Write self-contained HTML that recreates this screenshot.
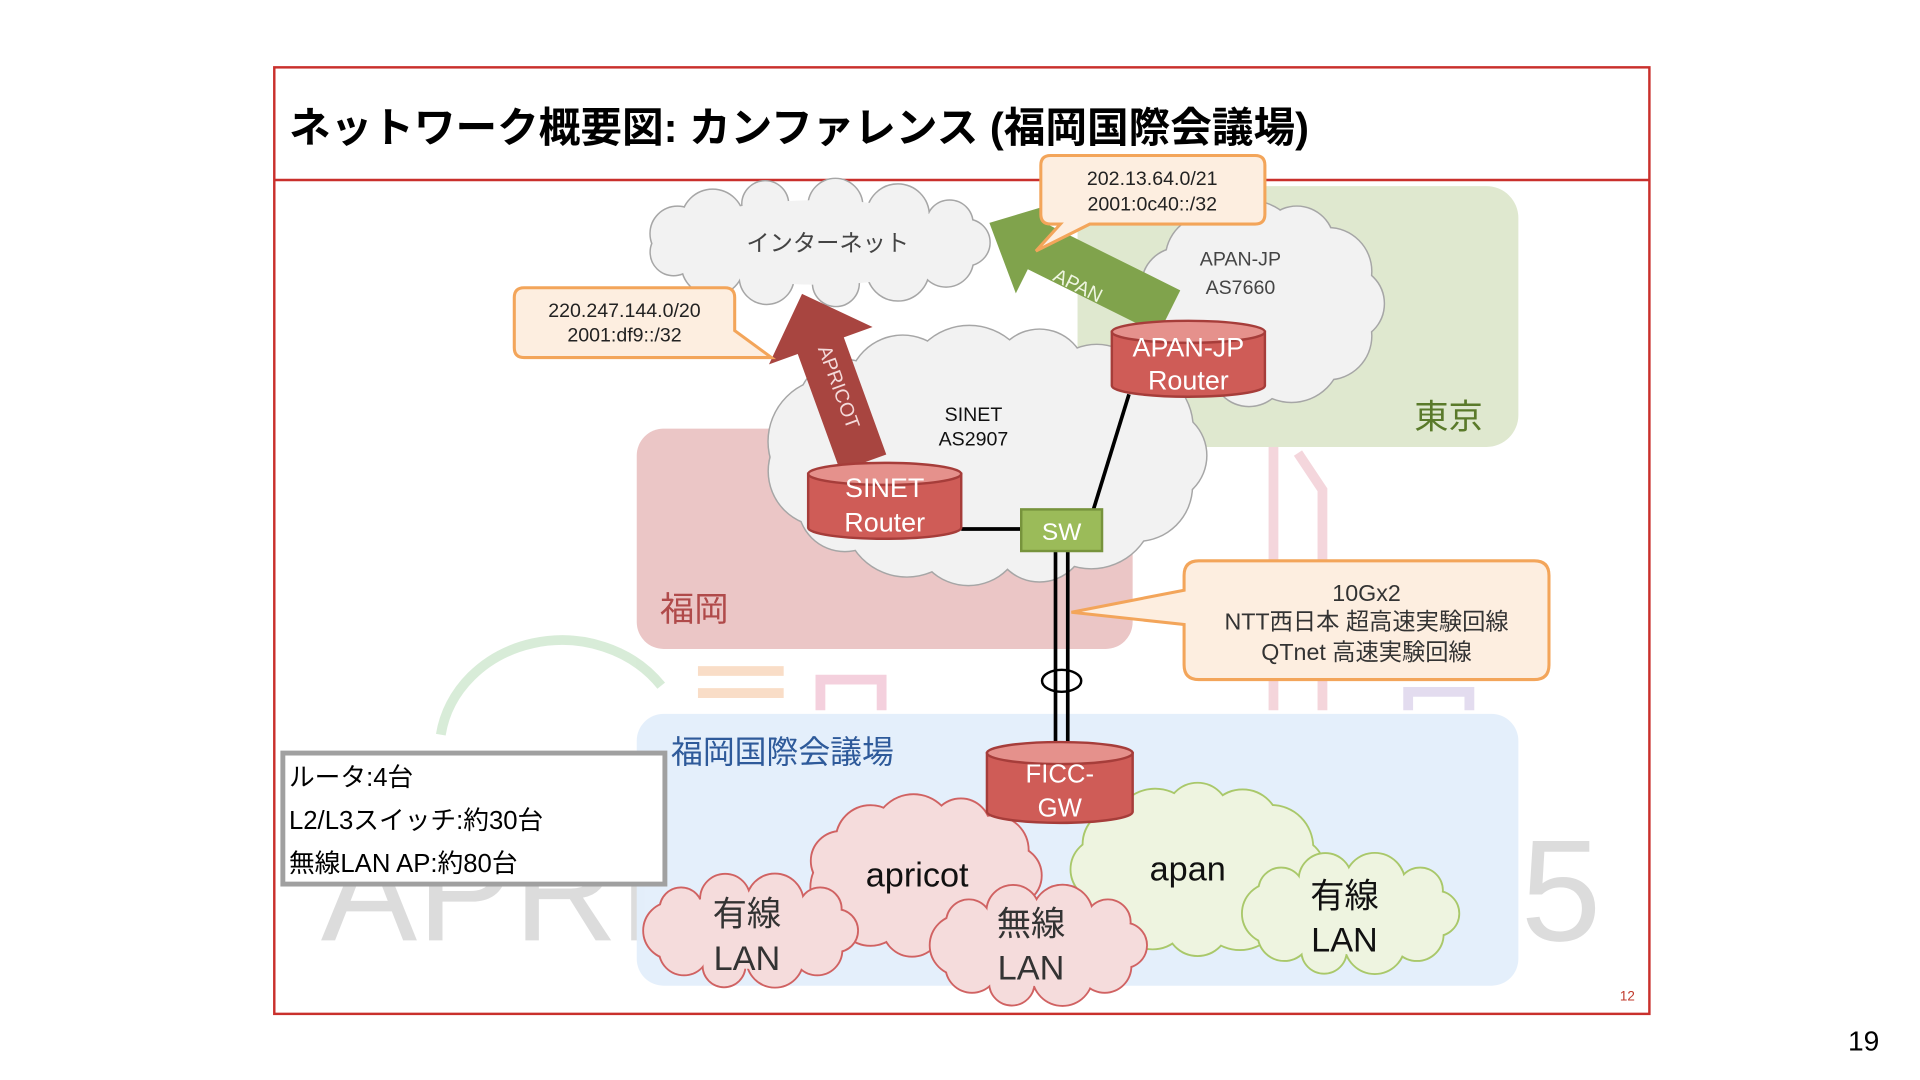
<!DOCTYPE html>
<html><head><meta charset="utf-8">
<style>
html,body{margin:0;padding:0;background:#fff;width:1920px;height:1080px;overflow:hidden}
svg{display:block}
text{font-family:"Liberation Sans","Noto Sans CJK JP",sans-serif}
</style></head>
<body>
<svg id="s" width="1920" height="1080" viewBox="0 0 1568 882" xmlns="http://www.w3.org/2000/svg">
<rect x="0" y="0" width="1568" height="882" fill="#fff"/>
<!-- frame -->
<rect x="224" y="55" width="1123" height="773" fill="none" stroke="#c9302c" stroke-width="2"/>
<line x1="224" y1="147" x2="1347" y2="147" stroke="#c9302c" stroke-width="2"/>
<!-- regions -->
<rect x="880" y="152" width="360" height="213" rx="26" fill="#dfe8cf"/>
<rect x="520" y="350" width="405" height="180" rx="22" fill="#ebc6c6"/>
<!-- faint watermark -->
<g opacity="0.35" fill="none" stroke-width="8">
<path d="M360 600 A100 90 0 0 1 540 560" stroke="#8fc88f"/>
<line x1="570" y1="548" x2="640" y2="548" stroke="#f0a060"/>
<line x1="570" y1="566" x2="640" y2="566" stroke="#f0a060"/>
<path d="M670 580 V555 H720 V580" stroke="#e07aa0"/>
<path d="M1040 365 V580 M1060 370 L1080 400 V580" stroke="#e08a9a"/>
<path d="M1150 580 V565 H1200 V580" stroke="#b09ad0"/>
</g>
<text x="262" y="768" font-size="118" fill="#bbb" opacity="0.5">APRI</text>
<text x="1242" y="768" font-size="118" fill="#bbb" opacity="0.5">5</text>
<rect x="520" y="583" width="720" height="222" rx="22" fill="#e3eefb" opacity="0.95"/>
<g id="clouds1"></g>
<!-- arrows -->
<polygon points="723.8,371.2 689.1,275.5 712.6,267 655,240 628,297.6 651.5,289.1 686.2,384.8" fill="#a84540"/>
<text transform="translate(680,318) rotate(70)" font-size="16" fill="#f4dada" text-anchor="middle">APRICOT</text>
<polygon points="963.9,237.1 857.2,184.1 867,164.4 808,182 829.6,239.6 839.4,219.9 946.1,272.9" fill="#80a34c"/>
<text transform="translate(878,238) rotate(26.4)" font-size="16" fill="#eef5e0" text-anchor="middle">APAN</text>
<!-- lines -->
<line x1="785" y1="432" x2="834" y2="432" stroke="#000" stroke-width="3"/>
<line x1="922" y1="322" x2="893" y2="416" stroke="#000" stroke-width="3"/>
<line x1="862" y1="450" x2="862" y2="612" stroke="#000" stroke-width="3"/>
<line x1="872" y1="450" x2="872" y2="612" stroke="#000" stroke-width="3"/>
<ellipse cx="867" cy="556" rx="16" ry="9" fill="none" stroke="#000" stroke-width="2"/>
<!-- SW -->
<rect x="834" y="416" width="66" height="34" fill="#9bbb59" stroke="#77933c" stroke-width="2"/>
<text x="867" y="441" font-size="20" fill="#fff" text-anchor="middle">SW</text>
<!-- routers -->
<g id="routers"></g>
<g id="clouds2"></g>
<!-- callouts -->
<path d="M428 235 H592 Q600 235 600 243 V270 L630 292 L596 292 H428 Q420 292 420 284 V243 Q420 235 428 235 Z" fill="#fdeee0" stroke="#f3a55a" stroke-width="2.5"/>
<text x="510" y="259" font-size="16" text-anchor="middle" fill="#222">220.247.144.0/20</text>
<text x="510" y="279" font-size="16" text-anchor="middle" fill="#222">2001:df9::/32</text>
<path d="M858 127 H1025 Q1033 127 1033 135 V175 Q1033 183 1025 183 H890 L846 205 L866 183 H858 Q850 183 850 175 V135 Q850 127 858 127 Z" fill="#fdeee0" stroke="#f3a55a" stroke-width="2.5"/>
<text x="941" y="151" font-size="16" text-anchor="middle" fill="#222">202.13.64.0/21</text>
<text x="941" y="172" font-size="16" text-anchor="middle" fill="#222">2001:0c40::/32</text>
<path d="M979 458 H1253 Q1265 458 1265 470 V543 Q1265 555 1253 555 H979 Q967 555 967 543 V510 L875 500 L967 482 V470 Q967 458 979 458 Z" fill="#fdeee0" stroke="#f3a55a" stroke-width="2.5"/>
<text x="1116" y="491" font-size="19" text-anchor="middle" fill="#333">10Gx2</text>
<text x="1116" y="514" font-size="19" text-anchor="middle" fill="#333">NTT西日本 超高速実験回線</text>
<text x="1116" y="539" font-size="19" text-anchor="middle" fill="#333">QTnet 高速実験回線</text>
<!-- stats box -->
<rect x="231" y="615" width="312" height="107" fill="#fff" stroke="#a0a0a0" stroke-width="4"/>
<text x="236" y="642" font-size="21" fill="#000">ルータ:4台</text>
<text x="236" y="677" font-size="21" fill="#000">L2/L3スイッチ:約30台</text>
<text x="236" y="712" font-size="21" fill="#000">無線LAN AP:約80台</text>
<!-- labels -->
<text x="1183" y="350" font-size="28" fill="#5a7a2a" text-anchor="middle">東京</text>
<text x="567" y="507" font-size="28" fill="#b04a4a" text-anchor="middle">福岡</text>
<text x="548" y="623" font-size="26" fill="#2e5a9a">福岡国際会議場</text>
<text x="236" y="116" font-size="34" font-weight="bold" fill="#000">ネットワーク概要図: カンファレンス (福岡国際会議場)</text>
<text x="1329" y="817" font-size="11" fill="#c0392b" text-anchor="middle">12</text>
<text x="1522" y="858" font-size="23" fill="#000" text-anchor="middle">19</text>
</svg>
<script>
var NS="http://www.w3.org/2000/svg";
function el(t,a,p){var e=document.createElementNS(NS,t);for(var k in a)e.setAttribute(k,a[k]);p.appendChild(e);return e;}
function cloud(p,cx,cy,a,b,n,st,fi,sw,label,ls,lc){
  var g=el("g",{},p);var r=Math.min(a,b)*0.42;var cs=[];
  for(var i=0;i<n;i++){var t=2*Math.PI*i/n;var rr=r*(0.85+0.3*((i*7)%3)/2);
    cs.push([cx+(a-rr)*Math.cos(t),cy+(b-rr)*Math.sin(t),rr]);}
  var g1=el("g",{stroke:st,"stroke-width":sw*2,fill:st},g);
  cs.forEach(function(c){el("circle",{cx:c[0],cy:c[1],r:c[2]},g1);});
  var g2=el("g",{fill:fi},g);
  el("ellipse",{cx:cx,cy:cy,rx:a-r*0.8,ry:b-r*0.8},g2);
  cs.forEach(function(c){el("circle",{cx:c[0],cy:c[1],r:c[2]},g2);});
  if(label){label.forEach(function(l){var t=el("text",{x:l[0],y:l[1],"font-size":ls,fill:lc,"text-anchor":"middle"},g);t.textContent=l[2];});}
}
function cyl(p,x,y,w,h,lines,fs){
  var g=el("g",{},p);var ry=9;
  el("path",{d:"M"+x+" "+(y+ry)+" V"+(y+h-ry)+" A"+(w/2)+" "+ry+" 0 0 0 "+(x+w)+" "+(y+h-ry)+" V"+(y+ry)+" Z",fill:"#cf5c57",stroke:"#a63d3a","stroke-width":2},g);
  el("ellipse",{cx:x+w/2,cy:y+ry,rx:w/2,ry:ry,fill:"#e5918c",stroke:"#a63d3a","stroke-width":2},g);
  lines.forEach(function(l){var t=el("text",{x:x+w/2,y:l[0],"font-size":fs,fill:"#fff","text-anchor":"middle"},g);t.textContent=l[1];});
}
var c1=document.getElementById("clouds1");
cloud(c1,668,198,140,52,13,"#a6a6a6","#f2f2f2",1.2,[[676,205,"インターネット"]],19,"#444");
cloud(c1,1030,248,100,84,11,"#a6a6a6","#f2f2f2",1.2,[[1013,217,"APAN-JP"],[1013,240,"AS7660"]],16,"#444");
cloud(c1,805,372,180,106,15,"#a6a6a6","#f2f2f2",1.2,[[795,344,"SINET"],[795,364,"AS2907"]],16,"#111");
var R=document.getElementById("routers");
cyl(R,660,378,125,62,[[406,"SINET"],[434,"Router"]],22);
cyl(R,908,262,125,62,[[291,"APAN-JP"],[318,"Router"]],22);
var c2=document.getElementById("clouds2");
cloud(c2,755,715,95,66,11,"#d06262","#f5dcdc",1.5,[[749,724,"apricot"]],28,"#111");
cloud(c2,978,710,103,70,12,"#a9c86a","#eef4e0",1.5,[[970,719,"apan"]],28,"#111");
cloud(c2,613,760,87,47,10,"#d06262","#f5dcdc",1.5,[[610,756,"有線"],[610,792,"LAN"]],28,"#333");
cloud(c2,848,772,88,50,10,"#d06262","#f5dcdc",1.5,[[842,764,"無線"],[842,800,"LAN"]],28,"#333");
cloud(c2,1103,746,88,50,10,"#a9c86a","#eef4e0",1.5,[[1098,741,"有線"],[1098,777,"LAN"]],28,"#111");
cyl(R,806,606,119,66,[[639,"FICC-"],[667,"GW"]],21);
R.parentNode.appendChild(R);
</script>
</body></html>
